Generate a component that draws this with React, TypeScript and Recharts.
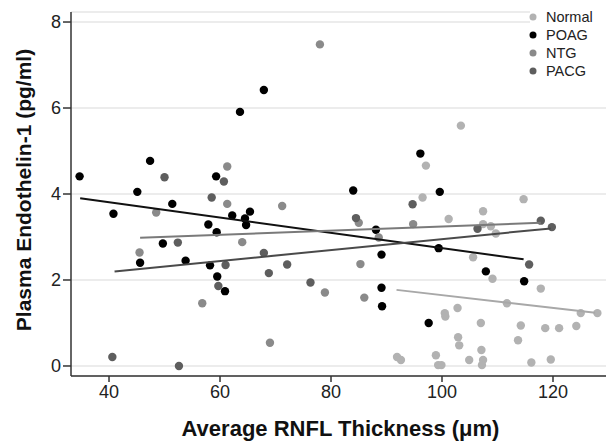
import { ScatterChart, Scatter, XAxis, YAxis, CartesianGrid } from "recharts";

const normal = [
  [97.1, 4.66], [96.5, 3.92], [103.4, 5.59], [101.2, 3.42], [107.4, 3.6], [107.4, 3.3],
  [108.8, 3.25], [109.7, 3.08], [105.6, 2.53], [109.1, 2.03], [114.7, 3.88], [117.8, 1.8],
  [111.7, 1.46], [102.8, 1.35], [100.6, 1.15], [100.5, 1.23], [107.0, 1.0], [114.2, 0.94],
  [118.6, 0.88], [121.1, 0.88], [124.2, 0.93], [125.0, 1.23], [128.0, 1.23], [102.9, 0.67],
  [103.1, 0.48], [113.7, 0.6], [107.1, 0.37], [91.9, 0.21], [92.6, 0.14], [98.9, 0.25],
  [99.3, 0.02], [99.9, 0.02], [104.9, 0.14], [107.4, 0.14], [107.2, 0.02], [116.1, 0.08],
  [119.6, 0.15],
];

const poag = [
  [34.7, 4.41], [40.8, 3.54], [45.1, 4.05], [47.4, 4.77], [45.6, 2.4], [51.4, 3.77],
  [49.7, 2.85], [53.8, 2.45], [57.9, 3.29], [59.3, 4.41], [59.4, 3.11], [58.2, 2.34],
  [59.5, 2.08], [60.9, 1.74], [62.2, 3.5], [63.6, 5.91], [64.5, 3.43], [64.7, 3.28],
  [65.4, 3.59], [67.9, 6.42], [84.0, 4.08], [88.1, 3.17], [89.1, 2.59], [89.1, 1.82],
  [89.2, 1.39], [96.1, 4.94], [99.6, 4.05], [99.4, 2.74], [97.6, 1.0], [107.9, 2.2],
  [114.8, 1.97],
];

const ntg = [
  [48.5, 3.57], [45.5, 2.64], [56.8, 1.46], [61.3, 4.64], [61.3, 3.77], [64.0, 2.88],
  [69.0, 0.54], [71.2, 3.72], [78.0, 7.48], [78.9, 1.71], [85.0, 3.33], [85.3, 2.37],
  [86.0, 1.59], [88.6, 2.99], [94.8, 3.3],
];

const pacg = [
  [40.6, 0.21], [52.6, 0.0], [50.0, 4.39], [52.4, 2.87], [58.5, 3.92], [59.7, 1.86],
  [60.7, 4.29], [61.0, 2.35], [67.9, 2.63], [68.8, 2.16], [72.1, 2.36], [76.3, 1.94],
  [84.5, 3.44], [94.7, 3.76], [106.4, 3.19], [115.7, 2.36], [117.8, 3.38], [119.8, 3.23],
];

// fitted line end points
const normalFit = [[91.8, 1.77], [127.6, 1.24]];
const poagFit = [[34.8, 3.9], [114.7, 2.48]];
const ntgFit = [[45.6, 2.98], [117.8, 3.33]];
const pacgFit = [[41.0, 2.2], [119.6, 3.2]];

const xTicks = [40, 60, 80, 100, 120];
const yTicks = [0, 2, 4, 6, 8];

const groups = [
  { name: "Normal", pts: normal, fit: normalFit, color: "#b2b2b2", line: "#a8a8a8" },
  { name: "POAG", pts: poag, fit: poagFit, color: "#000000", line: "#111111" },
  { name: "NTG", pts: ntg, fit: ntgFit, color: "#8a8a8a", line: "#7a7a7a" },
  { name: "PACG", pts: pacg, fit: pacgFit, color: "#5e5e5e", line: "#4a4a4a" },
];

const toObj = (arr: number[][]) => arr.map(([x, y]) => ({ x, y }));

const font = "'Liberation Sans', Arial, sans-serif";

function LegendBox() {
  return (
    <svg width={88} height={82} style={{ position: "absolute", left: 520, top: 0 }}>
      <rect x={10} y={0} width={78} height={82} fill="#fff" />
      {groups.map((g, i) => (
        <g key={g.name}>
          <circle cx={13} cy={17 + i * 18} r={3.5} fill={g.color} />
          <text x={26} y={17 + i * 18 + 5} fontSize={14.5} fontFamily={font} fill="#222">
            {g.name}
          </text>
        </g>
      ))}
    </svg>
  );
}

export default function App() {
  return (
    <div style={{ position: "absolute", left: 0, top: 0, width: 608, height: 441 }}>
      <ScatterChart width={608} height={441} margin={{ top: 12, right: 2, bottom: 0, left: 0 }}>
        <CartesianGrid vertical={false} stroke="#e6e6e6" strokeWidth={1.5} />
        <XAxis
          type="number"
          dataKey="x"
          domain={[33.15, 129.55]}
          ticks={xTicks}
          allowDataOverflow
          height={65}
          tickSize={6}
          tickMargin={3}
          stroke="#333"
          strokeWidth={1.5}
          tick={{ fontSize: 18, fill: "#222", fontFamily: font }}
          label={(p: any) => (
            <text
              x={p.viewBox.x + p.viewBox.width / 2 + 2}
              y={p.viewBox.y + 60}
              textAnchor="middle"
              fontSize={22}
              fontWeight="bold"
              fontFamily={font}
              fill="#111"
            >
              Average RNFL Thickness (μm)
            </text>
          )}
        />
        <YAxis
          type="number"
          dataKey="y"
          domain={[-0.233, 8.233]}
          ticks={yTicks}
          allowDataOverflow
          width={71}
          tickSize={8}
          tickMargin={2}
          stroke="#333"
          strokeWidth={1.5}
          tick={{ fontSize: 18, fill: "#222", fontFamily: font }}
          label={(p: any) => {
            const cx = 23;
            const cy = p.viewBox.y + p.viewBox.height / 2 - 4;
            return (
              <text
                x={cx}
                y={cy}
                transform={`rotate(-90 ${cx} ${cy})`}
                textAnchor="middle"
                dominantBaseline="central"
                fontSize={21}
                fontWeight="bold"
                fontFamily={font}
                fill="#111"
              >
                Plasma Endothelin-1 (pg/ml)
              </text>
            );
          }}
        />
        {groups.map((g) => (
          <Scatter
            key={g.name}
            name={g.name}
            data={toObj(g.pts)}
            fill={g.color}
            isAnimationActive={false}
            shape={(p: any) => <circle cx={p.cx} cy={p.cy} r={4.2} fill={g.color} />}
          />
        ))}
        {groups.map((g) => (
          <Scatter
            key={g.name + "-fit"}
            name={g.name + " fit"}
            data={toObj(g.fit)}
            line={{ stroke: g.line, strokeWidth: 2 }}
            legendType="none"
            isAnimationActive={false}
            shape={() => <g />}
          />
        ))}
      </ScatterChart>
      <LegendBox />
    </div>
  );
}
